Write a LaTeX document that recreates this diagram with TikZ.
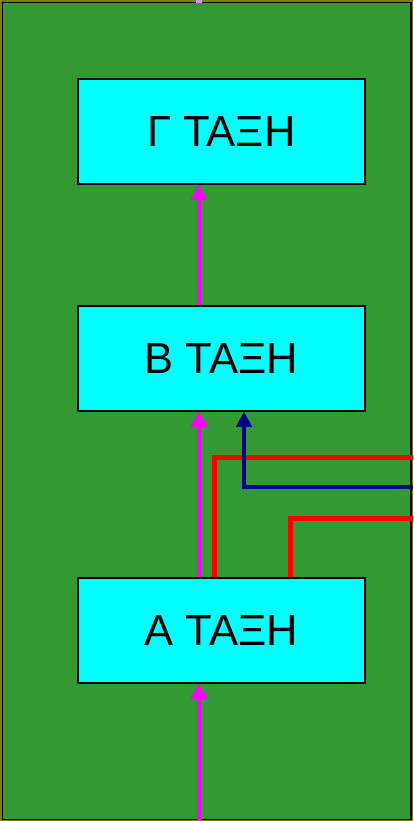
\documentclass[tikz,border=0pt]{standalone}
\usepackage{xcolor}
\usepackage{fontspec}
\setmainfont{Liberation Sans}
\usepackage{tikz}
\usetikzlibrary{arrows.meta, calc}
\definecolor{fieldgreen}{RGB}{51,153,51}
\definecolor{rimolive}{RGB}{128,128,0}
\definecolor{boxcyan}{RGB}{0,255,255}
\definecolor{flowpink}{RGB}{255,0,255}
\definecolor{stubpink}{RGB}{204,153,255}
\definecolor{linknavy}{RGB}{0,0,128}
\tikzset{
  classbox/.style={draw=black, line width=1.5pt, fill=boxcyan, minimum width=287pt, minimum height=105pt, inner sep=0pt, font=\fontsize{43.5}{50}\selectfont},
  flow/.style={flowpink, line width=4.5pt, -{Stealth[inset=0pt,length=15pt,width=16pt]}},
}

\begin{document}
\begin{tikzpicture}[x=1pt, y=-1pt]
\useasboundingbox (0,0) rectangle (413,821);
\fill[rimolive] (0,0) rectangle (413,821);
\draw[black, line width=1.2pt, fill=fieldgreen] (2.6,2.6) rectangle (411,819.5);
\node[classbox] (gamma) at (221.5,131.5) {Γ ΤΑΞΗ};
\node[classbox] (beta) at (221.5,358.5) {Β ΤΑΞΗ};
\node[classbox] (alpha) at (221.5,630.5) {Α ΤΑΞΗ};
\coordinate (m) at (199,0);
\coordinate (in) at (199,821);
\coordinate (out) at (199,0);
\coordinate (xr1) at (214,0);
\coordinate (xr2) at (290,0);
\coordinate (xb) at (244,0);
\coordinate (r1) at (413,457);
\coordinate (r2) at (413,518);
\coordinate (b1) at (413,487);
% flow up through the classes
\draw[flow] (in) -- (in |- alpha.south);
\draw[flow] (m |- alpha.north) -- (m |- beta.south);
\draw[flow] (m |- beta.north) -- (m |- gamma.south);
\draw[stubpink, line width=6pt] (out) -- ++(0,3);
% side links
\draw[red, line width=5pt] (xr1 |- alpha.north) |- (r1);
\draw[red, line width=5pt] (xr2 |- alpha.north) |- (r2);
\draw[linknavy, line width=4.5pt, -{Stealth[inset=0pt,length=15pt,width=15pt]}] (b1) -| (xb |- beta.south);
\end{tikzpicture}
\end{document}
